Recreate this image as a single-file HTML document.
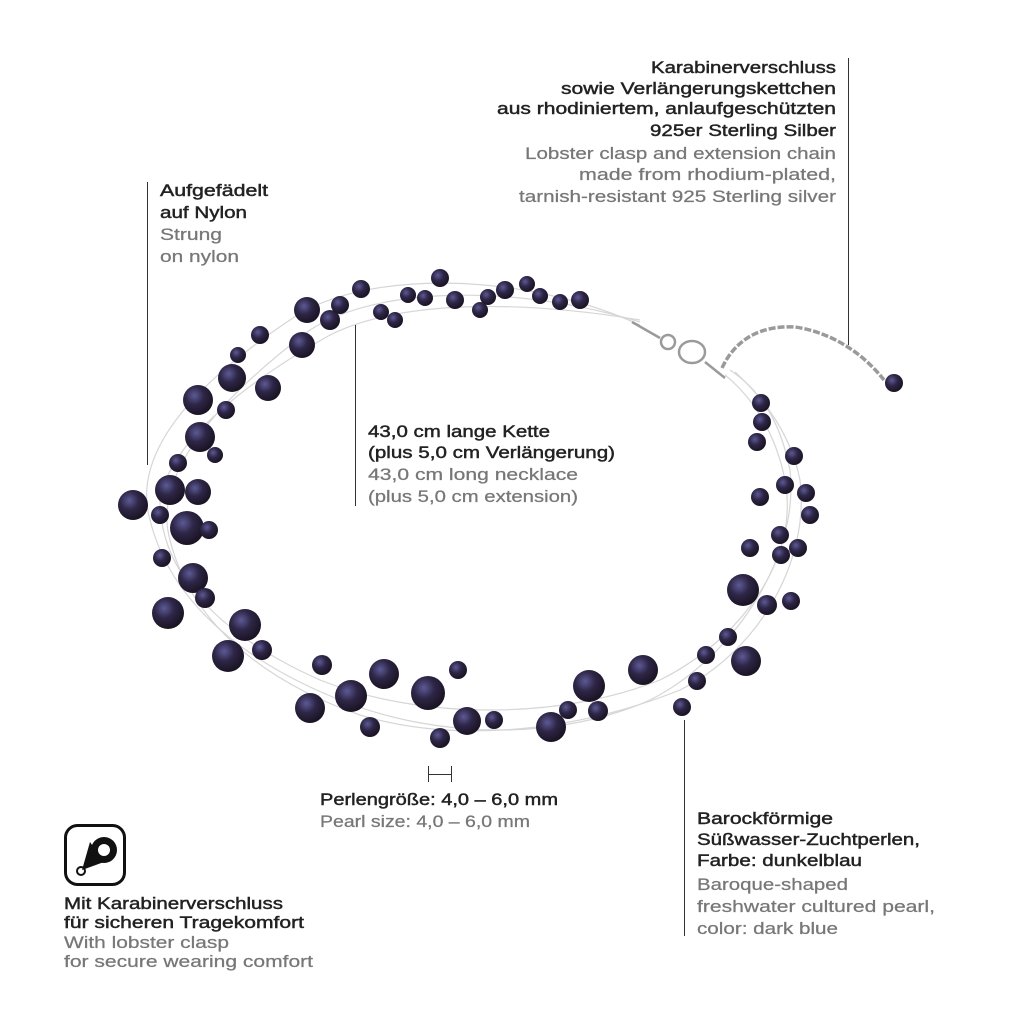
<!DOCTYPE html>
<html><head><meta charset="utf-8"><style>html,body{margin:0;padding:0;background:#fff}svg{display:block}</style></head>
<body>
<svg width="1024" height="1024" viewBox="0 0 1024 1024" xmlns="http://www.w3.org/2000/svg" font-family="Liberation Sans, sans-serif" font-size="16.5">
<defs>
<radialGradient id="p" cx="0.38" cy="0.35" r="0.7">
<stop offset="0" stop-color="#5c5a96"/><stop offset="0.45" stop-color="#2e2646"/><stop offset="1" stop-color="#17111f"/>
</radialGradient>
</defs>
<g fill="none" stroke="#d6d6d6" stroke-width="1.2">
<path d="M640,325 C520,270 360,270 290,320 C200,380 130,450 150,520 C170,600 240,660 340,700 C440,740 560,740 650,700 C730,660 800,560 790,470 C780,420 760,390 730,370"/>
<path d="M640,322 C520,285 380,285 310,330 C230,390 150,470 170,540 C190,620 260,680 360,715 C460,745 580,730 680,690 C760,650 810,560 800,480 C790,430 760,395 735,372"/>
<path d="M640,320 C520,300 400,300 330,335 C250,380 170,440 160,500 C160,580 230,640 320,680 C420,720 560,720 660,680 C740,640 800,560 785,480 C775,430 750,395 725,375"/>
</g>
<g stroke="#9a9a9a" fill="none" stroke-width="2.5">
<path d="M632,322 L660,338"/>
<circle cx="668" cy="342" r="7"/>
<ellipse cx="692" cy="352" rx="13" ry="11"/>
<path d="M705,362 L725,378"/>
<path d="M722,368 C735,340 760,325 795,327 C830,332 862,352 884,380" stroke-dasharray="7 2" stroke-width="3.5"/>
</g>
<g fill="url(#p)">
<circle cx="361" cy="289" r="9"/><circle cx="440" cy="278" r="9"/><circle cx="408" cy="295" r="8"/><circle cx="425" cy="298" r="8"/><circle cx="455" cy="300" r="9"/><circle cx="480" cy="310" r="8"/><circle cx="488" cy="297" r="8"/><circle cx="505" cy="290" r="9"/><circle cx="527" cy="284" r="8"/><circle cx="540" cy="296" r="8"/><circle cx="560" cy="302" r="8"/><circle cx="580" cy="300" r="9"/><circle cx="381" cy="312" r="8"/><circle cx="395" cy="320" r="8"/><circle cx="307" cy="310" r="13"/><circle cx="330" cy="320" r="10"/><circle cx="340" cy="305" r="9"/><circle cx="302" cy="345" r="13"/><circle cx="260" cy="335" r="9"/><circle cx="238" cy="355" r="8"/><circle cx="232" cy="378" r="14"/><circle cx="268" cy="388" r="13"/><circle cx="198" cy="400" r="15"/><circle cx="226" cy="410" r="9"/><circle cx="200" cy="437" r="15"/><circle cx="215" cy="455" r="8"/><circle cx="178" cy="463" r="9"/><circle cx="170" cy="490" r="15"/><circle cx="133" cy="505" r="15"/><circle cx="198" cy="492" r="13"/><circle cx="160" cy="515" r="9"/><circle cx="187" cy="528" r="17"/><circle cx="209" cy="530" r="9"/><circle cx="162" cy="558" r="9"/><circle cx="193" cy="578" r="15"/><circle cx="205" cy="598" r="10"/><circle cx="168" cy="613" r="16"/><circle cx="245" cy="625" r="16"/><circle cx="228" cy="656" r="16"/><circle cx="262" cy="650" r="10"/><circle cx="322" cy="665" r="10"/><circle cx="384" cy="674" r="15"/><circle cx="351" cy="696" r="16"/><circle cx="310" cy="708" r="15"/><circle cx="370" cy="727" r="10"/><circle cx="428" cy="693" r="17"/><circle cx="458" cy="670" r="9"/><circle cx="440" cy="738" r="10"/><circle cx="467" cy="721" r="14"/><circle cx="494" cy="720" r="9"/><circle cx="551" cy="727" r="15"/><circle cx="568" cy="710" r="9"/><circle cx="598" cy="711" r="10"/><circle cx="589" cy="686" r="16"/><circle cx="643" cy="670" r="15"/><circle cx="697" cy="681" r="9"/><circle cx="706" cy="655" r="9"/><circle cx="728" cy="637" r="9"/><circle cx="746" cy="661" r="15"/><circle cx="682" cy="707" r="9"/><circle cx="743" cy="590" r="16"/><circle cx="767" cy="605" r="10"/><circle cx="791" cy="601" r="9"/><circle cx="781" cy="555" r="9"/><circle cx="798" cy="548" r="9"/><circle cx="750" cy="548" r="9"/><circle cx="780" cy="535" r="9"/><circle cx="810" cy="515" r="9"/><circle cx="806" cy="493" r="9"/><circle cx="785" cy="485" r="9"/><circle cx="760" cy="497" r="9"/><circle cx="794" cy="456" r="9"/><circle cx="757" cy="442" r="9"/><circle cx="762" cy="422" r="9"/><circle cx="761" cy="403" r="9"/><circle cx="894" cy="383" r="9"/>
</g>
<g stroke="#333" stroke-width="1">
<line x1="848.5" y1="58" x2="848.5" y2="345"/>
<line x1="147.5" y1="182" x2="147.5" y2="465"/>
<line x1="355.5" y1="325" x2="355.5" y2="506"/>
<line x1="684.5" y1="720" x2="684.5" y2="936"/>
<line x1="428.5" y1="766" x2="428.5" y2="782"/>
<line x1="451.5" y1="766" x2="451.5" y2="782"/>
<line x1="428" y1="774.5" x2="452" y2="774.5"/>
</g>
<rect x="65.5" y="825.5" width="59" height="59" rx="12" fill="none" stroke="#111" stroke-width="3"/>
<g fill="#111">
<circle cx="104" cy="850" r="13"/>
<path d="M90,842 L104,862 L82,870 Z"/>
</g>
<circle cx="104" cy="850" r="6" fill="#fff"/>
<circle cx="81" cy="871" r="4" fill="none" stroke="#111" stroke-width="2"/>
<g fill="#222" stroke="#222" stroke-width="0.45">
<text x="651" y="73" textLength="185" lengthAdjust="spacingAndGlyphs">Karabinerverschluss</text>
<text x="561" y="94" textLength="275" lengthAdjust="spacingAndGlyphs">sowie Verlängerungskettchen</text>
<text x="497" y="114" textLength="339" lengthAdjust="spacingAndGlyphs">aus rhodiniertem, anlaufgeschützten</text>
<text x="650" y="136" textLength="186" lengthAdjust="spacingAndGlyphs">925er Sterling Silber</text>
<text x="160" y="196" textLength="108" lengthAdjust="spacingAndGlyphs">Aufgefädelt</text>
<text x="160" y="218" textLength="87" lengthAdjust="spacingAndGlyphs">auf Nylon</text>
<text x="368" y="437" textLength="182" lengthAdjust="spacingAndGlyphs">43,0 cm lange Kette</text>
<text x="368" y="458" textLength="247" lengthAdjust="spacingAndGlyphs">(plus 5,0 cm Verlängerung)</text>
<text x="320" y="805" textLength="238" lengthAdjust="spacingAndGlyphs">Perlengröße: 4,0 – 6,0 mm</text>
<text x="697" y="824" textLength="136" lengthAdjust="spacingAndGlyphs">Barockförmige</text>
<text x="697" y="845" textLength="223" lengthAdjust="spacingAndGlyphs">Süßwasser-Zuchtperlen,</text>
<text x="697" y="866" textLength="165" lengthAdjust="spacingAndGlyphs">Farbe: dunkelblau</text>
<text x="64" y="909" textLength="219" lengthAdjust="spacingAndGlyphs">Mit Karabinerverschluss</text>
<text x="64" y="928" textLength="240" lengthAdjust="spacingAndGlyphs">für sicheren Tragekomfort</text>
</g>
<g fill="#777" stroke="#777" stroke-width="0.25">
<text x="525" y="159" textLength="311" lengthAdjust="spacingAndGlyphs">Lobster clasp and extension chain</text>
<text x="579" y="180" textLength="257" lengthAdjust="spacingAndGlyphs">made from rhodium-plated,</text>
<text x="519" y="202" textLength="317" lengthAdjust="spacingAndGlyphs">tarnish-resistant 925 Sterling silver</text>
<text x="160" y="240" textLength="62" lengthAdjust="spacingAndGlyphs">Strung</text>
<text x="160" y="262" textLength="79" lengthAdjust="spacingAndGlyphs">on nylon</text>
<text x="368" y="480" textLength="210" lengthAdjust="spacingAndGlyphs">43,0 cm long necklace</text>
<text x="368" y="502" textLength="210" lengthAdjust="spacingAndGlyphs">(plus 5,0 cm extension)</text>
<text x="320" y="827" textLength="210" lengthAdjust="spacingAndGlyphs">Pearl size: 4,0 – 6,0 mm</text>
<text x="697" y="890" textLength="151" lengthAdjust="spacingAndGlyphs">Baroque-shaped</text>
<text x="697" y="912" textLength="238" lengthAdjust="spacingAndGlyphs">freshwater cultured pearl,</text>
<text x="697" y="934" textLength="141" lengthAdjust="spacingAndGlyphs">color: dark blue</text>
<text x="64" y="948" textLength="165" lengthAdjust="spacingAndGlyphs">With lobster clasp</text>
<text x="64" y="967" textLength="249" lengthAdjust="spacingAndGlyphs">for secure wearing comfort</text>
</g>
</svg>
</body></html>
